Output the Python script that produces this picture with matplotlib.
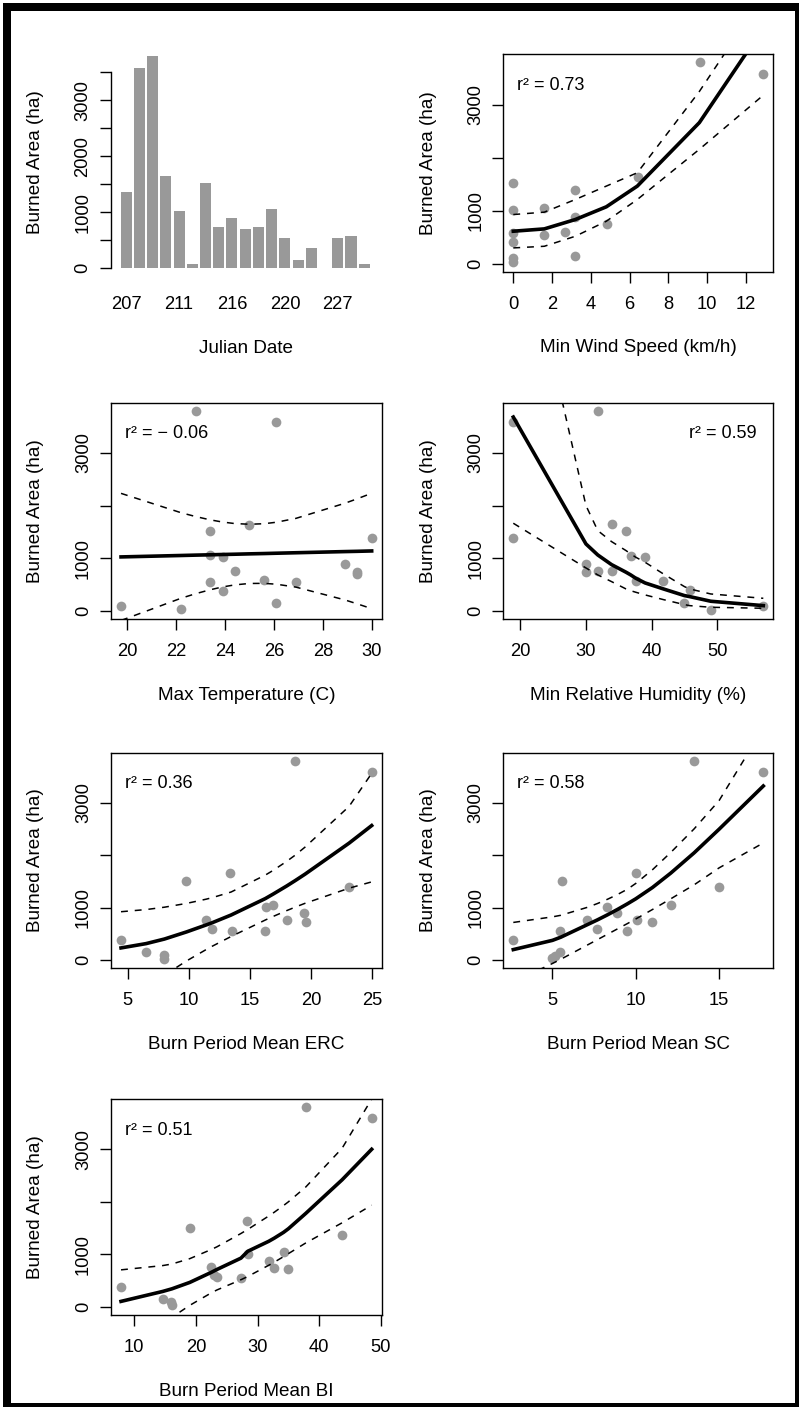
import matplotlib
matplotlib.use("Agg")
import matplotlib.pyplot as plt
from matplotlib.patches import Rectangle
from matplotlib.transforms import offset_copy

plt.rcParams['font.family'] = ['Liberation Sans', 'DejaVu Sans']

W, H, DPI = 799, 1407, 100
GRAY = '#999999'
TICK_FS = 13.2
LABEL_FS = 13.6
R2_FS = 13

# ---------------- data ----------------
# Daily burned area by Julian date
julian_day = [207, 208, 209, 210, 211, 212, 213, 214, 216, 217,
              218, 219, 220, 221, 222, 223, 227, 228, 229]
burned_area_by_day = [1360, 3580, 3800, 1640, 1020, 80, 1520, 740, 890, 700,
                      740, 1050, 545, 145, 360, 0, 545, 580, 80]

# Min wind speed (km/h)
wind_x = [0, 0, 0, 0, 0, 0, 1.6, 1.6, 2.65, 3.2, 3.2, 3.2, 4.85, 6.45, 9.65, 12.9]
wind_y = [1520, 1020, 580, 410, 107, 30, 1050, 545, 600, 1390, 890, 145, 740, 1640, 3800, 3580]
wind_fit_x = [0, 1.6, 3.2, 4.8, 6.4, 9.6, 12.9]
wind_fit = [612, 656, 833, 1073, 1464, 2662, 4450]
wind_upper = [927, 972, 1211, 1464, 1716, 3250, 5060]
wind_lower = [297, 328, 517, 801, 1211, 2158, 3180]

# Max temperature (C)
temp_x = [19.75, 22.2, 22.8, 23.4, 23.4, 23.4, 23.9, 23.9, 24.4, 25.0,
          25.6, 26.1, 26.1, 26.9, 28.9, 29.4, 29.4, 30.0]
temp_y = [107, 44, 3800, 1516, 1060, 560, 1020, 390, 760, 1640,
          590, 3580, 160, 560, 897, 740, 700, 1390]
temp_fit_x = [19.75, 22.2, 22.8, 23.4, 23.9, 24.4, 25.0, 25.6, 26.1, 26.9, 28.9, 29.4, 30.0]
temp_fit = [1030, 1057, 1064, 1070, 1076, 1081, 1088, 1094, 1100, 1109, 1131, 1136, 1143]
temp_upper = [2234, 1868, 1795, 1732, 1691, 1662, 1649, 1659, 1687, 1760, 2046, 2130, 2236]
temp_lower = [-174, 246, 333, 408, 461, 500, 527, 529, 513, 458, 216, 142, 50]

# Min relative humidity (%)
rh_x = [18.94, 18.94, 31.8, 30.0, 30.0, 31.8, 33.9, 33.9, 36.1, 36.8,
        39.0, 37.6, 41.8, 45.8, 45.0, 49.0, 57.0]
rh_y = [3580, 1390, 3800, 900, 740, 760, 1650, 760, 1520, 1055,
        1020, 580, 580, 410, 160, 30, 107]
rh_fit_x = [18.94, 30.0, 31.8, 33.9, 36.1, 36.8, 37.6, 39.0, 41.8, 45.0, 45.8, 49.0, 57.0]
rh_fit = [3680, 1276, 1067, 884, 740, 690, 625, 537, 423, 297, 278, 190, 107]
rh_upper = [8050, 2003, 1529, 1320, 1150, 1087, 1023, 929, 707, 467, 423, 328, 246]
rh_lower = [1668, 821, 689, 562, 423, 390, 360, 310, 221, 126, 107, 76, 57]

# Burn period mean ERC
erc_x = [4.45, 6.5, 8.0, 8.0, 9.8, 11.4, 11.9, 13.4, 13.5, 16.2,
         16.3, 16.9, 18.0, 18.7, 19.4, 19.6, 23.1, 24.95]
erc_y = [383, 160, 96, 30, 1519, 766, 593, 1660, 555, 555,
         1020, 1050, 766, 3800, 893, 721, 1391, 3580]
erc_fit_x = [4.45, 6.5, 8.0, 9.8, 11.4, 11.9, 13.45, 16.25, 16.9, 18.0, 18.7, 19.5, 23.1, 24.95]
erc_fit = [236, 318, 405, 540, 672, 715, 862, 1175, 1262, 1415, 1518, 1640, 2230, 2565]
erc_upper = [925, 966, 1011, 1083, 1163, 1192, 1300, 1622, 1713, 1884, 2003, 2155, 2929, 3558]
erc_lower = [-909, -530, -283, -13, 203, 267, 453, 767, 836, 946, 1013, 1085, 1373, 1493]

# Burn period mean SC
sc_x = [2.65, 4.95, 5.15, 5.45, 5.45, 5.55, 7.1, 7.7, 8.3, 8.9,
        9.5, 10.0, 10.1, 11.0, 12.1, 13.5, 15.0, 17.65]
sc_y = [396, 50, 90, 150, 555, 1519, 766, 593, 1021, 893,
        555, 1659, 766, 721, 1053, 3800, 1391, 3580]
sc_fit_x = [2.65, 5.0, 5.5, 7.1, 7.7, 8.3, 8.9, 9.5, 10.0, 11.0, 12.1, 13.5, 15.0, 17.65]
sc_fit = [204, 380, 440, 680, 770, 866, 968, 1076, 1171, 1386, 1661, 2046, 2496, 3318]
sc_upper = [721, 827, 857, 1009, 1081, 1162, 1252, 1354, 1464, 1724, 2054, 2502, 3042, 4420]
sc_lower = [-412, -60, 20, 292, 394, 496, 598, 700, 787, 967, 1171, 1437, 1760, 2234]

# Burn period mean BI
bi_x = [7.85, 14.6, 15.96, 16.1, 18.97, 22.5, 23.0, 23.4, 27.3, 28.3,
        28.4, 31.8, 32.7, 34.2, 35.0, 37.8, 43.7, 48.5]
bi_y = [379, 158, 95, 32, 1503, 758, 600, 568, 550, 1642,
        1011, 884, 745, 1042, 726, 3800, 1377, 3588]
bi_fit_x = [7.85, 14.6, 16.1, 19.0, 22.5, 23.4, 27.3, 28.4, 31.8, 32.7, 34.2, 35.0, 37.8, 43.7, 48.5]
bi_fit = [107, 296, 346, 468, 660, 714, 930, 1060, 1250, 1310, 1420, 1490, 1780, 2420, 3001]
bi_upper = [707, 788, 818, 920, 1095, 1145, 1399, 1476, 1731, 1803, 1930, 2002, 2282, 3020, 3956]
bi_lower = [-1200, -400, -197, 32, 270, 324, 519, 580, 794, 853, 958, 1016, 1218, 1602, 1938]

r2_labels = ['0.73', '\u2212 0.06', '0.59', '0.36', '0.58', '0.51']

# ---------------- figure ----------------
fig = plt.figure(figsize=(W / DPI, H / DPI), dpi=DPI)
fig.patch.set_facecolor('white')

TICK_LEN = 8.2  # points


def add_box(left, top, right, bottom):
    """Axes placed by pixel edges measured from the top-left corner."""
    return fig.add_axes([left / W, 1 - bottom / H, (right - left) / W, (bottom - top) / H])


def padded(vals, frac=0.04):
    lo, hi = min(vals), max(vals)
    pad = (hi - lo) * frac
    return lo - pad, hi + pad


def axis_titles(ax, xlabel, ylabel, xoff=76, yoff=75):
    tx = offset_copy(ax.transAxes, fig=fig, x=0, y=-xoff, units='dots')
    ax.text(0.5, 0, xlabel, transform=tx, ha='center', va='center', fontsize=LABEL_FS)
    ty = offset_copy(ax.transAxes, fig=fig, x=-yoff, y=0, units='dots')
    ax.text(0, 0.5, ylabel, transform=ty, rotation=90, ha='center', va='center',
            fontsize=LABEL_FS)


def style_ticks(ax):
    ax.tick_params(axis='both', direction='out', length=TICK_LEN, width=1.0,
                   labelsize=TICK_FS)
    ax.tick_params(axis='x', pad=9)
    ax.tick_params(axis='y', pad=5.5)
    for lab in ax.get_yticklabels():
        lab.set_rotation(90)
        lab.set_va('center')


# Panel 1: bar chart of burned area by day
ax = add_box(110.6, 47, 382, 276.5)
n = len(burned_area_by_day)
centers = [0.7 + 1.2 * i for i in range(n)]
ax.bar(centers, burned_area_by_day, width=1.0, color=GRAY, linewidth=0)
ax.set_xlim(*padded([0.2, 0.2 + 1.2 * n]))
ax.set_ylim(*padded([0] + burned_area_by_day))
for s in ('top', 'right', 'bottom'):
    ax.spines[s].set_visible(False)
ax.spines['left'].set_bounds(0, 3500)
ax.spines['left'].set_linewidth(1.0)
ax.set_yticks(range(0, 3501, 500))
ax.set_yticklabels([str(v) if v % 1000 == 0 else '' for v in range(0, 3501, 500)])
ax.set_xticks(centers[::4])
ax.set_xticklabels([str(d) for d in julian_day[::4]])
style_ticks(ax)
ax.tick_params(axis='x', length=0, pad=14)
axis_titles(ax, 'Julian Date', 'Burned Area (ha)', xoff=72)

# Scatter panels with fitted curve and confidence band
ylim = padded(burned_area_by_day)
panels = [
    ((503.3, 54.3, 773.3, 271.7), wind_x, wind_y, wind_fit_x, wind_fit, wind_upper, wind_lower,
     list(range(0, 13, 2)), 'Min Wind Speed (km/h)', 'left'),
    ((111, 402.7, 381.7, 619.3), temp_x, temp_y, temp_fit_x, temp_fit, temp_upper, temp_lower,
     list(range(20, 31, 2)), 'Max Temperature (C)', 'left'),
    ((503.3, 402.7, 773.3, 619.3), rh_x, rh_y, rh_fit_x, rh_fit, rh_upper, rh_lower,
     [20, 30, 40, 50], 'Min Relative Humidity (%)', 'right'),
    ((111, 752.7, 381.7, 968.3), erc_x, erc_y, erc_fit_x, erc_fit, erc_upper, erc_lower,
     [5, 10, 15, 20, 25], 'Burn Period Mean ERC', 'left'),
    ((503.3, 752.7, 773.3, 968.3), sc_x, sc_y, sc_fit_x, sc_fit, sc_upper, sc_lower,
     [5, 10, 15], 'Burn Period Mean SC', 'left'),
    ((111, 1099.3, 381.7, 1315), bi_x, bi_y, bi_fit_x, bi_fit, bi_upper, bi_lower,
     [10, 20, 30, 40, 50], 'Burn Period Mean BI', 'left'),
]

for (box, xs, ys, fx, fit, up, lo, xticks, xlabel, corner), r2 in zip(panels, r2_labels):
    ax = add_box(*box)
    ax.plot(xs, ys, 'o', color=GRAY, markersize=7, markeredgewidth=0, zorder=2)
    ax.plot(fx, fit, color='black', linewidth=2.6, solid_joinstyle='round', zorder=3)
    for band in (up, lo):
        ax.plot(fx, band, color='black', linewidth=1.1, dashes=(4.5, 4.5), zorder=3)
    ax.set_xlim(*padded(xs))
    ax.set_ylim(*ylim)
    for s in ax.spines.values():
        s.set_linewidth(1.0)
    ax.set_xticks(xticks)
    ax.set_yticks([0, 1000, 2000, 3000])
    ax.set_yticklabels(['0', '1000', '', '3000'])
    style_ticks(ax)
    axis_titles(ax, xlabel, 'Burned Area (ha)')
    label = 'r\u00b2 = ' + r2
    if corner == 'left':
        t = offset_copy(ax.transAxes, fig=fig, x=14, y=-31, units='dots')
        ax.text(0, 1, label, transform=t, ha='left', va='center', fontsize=R2_FS)
    else:
        t = offset_copy(ax.transAxes, fig=fig, x=-17, y=-31, units='dots')
        ax.text(1, 1, label, transform=t, ha='right', va='center', fontsize=R2_FS)

# Outer black frame
for x0, y0, w, h in [(3, 3, 8, H), (3, 3, W, 8), (795, 3, 10, H), (3, 1403, W, 10)]:
    fig.add_artist(Rectangle((x0 / W, 1 - (y0 + h) / H), w / W, h / H,
                             transform=fig.transFigure, color='black', linewidth=0))

fig.savefig('out.png', dpi=DPI, facecolor='white')
